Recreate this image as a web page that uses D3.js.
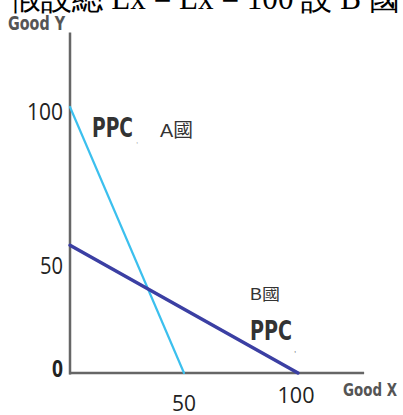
<!DOCTYPE html>
<html><head><meta charset="utf-8">
<script src="https://cdn.jsdelivr.net/npm/d3@7/dist/d3.min.js"></script>
<style>html,body{margin:0;padding:0;background:#fff;overflow:hidden}</style>
</head><body>
<svg id="c" width="403" height="415"></svg>
<script>
// Data
const countries = ["A國", "B國"];
const xIntercepts = [50, 100];   // Good X max
const yIntercepts = [100, 48];   // Good Y max
const xTicks = ["50", "100"];
const xTickValues = [50, 100];
const yTicks = ["0", "50", "100"];
const yTickValues = [0, 50, 100];

const svg = d3.select("#c");
const x = d3.scaleLinear().domain([0, 100]).range([70, 298]);
const y = d3.scaleLinear().domain([0, 100]).range([373, 107]);

// cut-off heading text
svg.append("text").attr("x", 10).attr("y", 9)
  .attr("font-family", "Liberation Serif, serif").attr("font-size", 34).attr("fill", "#000")
  .attr("textLength", 390).attr("lengthAdjust", "spacingAndGlyphs")
  .text("假設總 Lx = Lx = 100 設 B 國");

// axes
const axColor = "#666";
svg.append("line").attr("x1", x(0)).attr("x2", x(0)).attr("y1", y(0) + 1.5).attr("y2", y(128))
  .attr("stroke", axColor).attr("stroke-width", 2.5);
svg.append("line").attr("x1", x(0) - 1).attr("x2", x(129)).attr("y1", y(0)).attr("y2", y(0))
  .attr("stroke", axColor).attr("stroke-width", 2.5);

const cond = "DejaVu Sans Condensed, DejaVu Sans";
svg.append("text").attr("x", 8).attr("y", 30)
  .attr("font-family", cond).attr("font-weight", "bold")
  .attr("font-size", 19).attr("fill", "#555")
  .attr("textLength", 57).attr("lengthAdjust", "spacingAndGlyphs").text("Good Y");
svg.append("text").attr("x", 343).attr("y", 396)
  .attr("font-family", cond).attr("font-weight", "bold")
  .attr("font-size", 18).attr("fill", "#555")
  .attr("textLength", 54).attr("lengthAdjust", "spacingAndGlyphs").text("Good X");

// y tick labels
const yOff = {"0": -2, "50": 28, "100": 7};
const yLen = {"0": 11, "50": 23, "100": 36};
svg.selectAll(".yt").data(yTickValues).join("text")
  .attr("x", (d, i) => 63 - yLen[yTicks[i]]).attr("y", (d, i) => y(d) + yOff[yTicks[i]])
  .attr("dominant-baseline", "middle")
  .attr("font-family", "Open Sans, sans-serif").attr("font-size", 23).attr("fill", "#222")
  .attr("font-weight", (d, i) => yTicks[i] === "0" ? "bold" : "normal")
  .attr("textLength", (d, i) => yLen[yTicks[i]]).attr("lengthAdjust", "spacingAndGlyphs")
  .text((d, i) => yTicks[i]);

// x tick labels
const xOffX = {"50": 0, "100": -2};
const xOffY = {"50": 32, "100": 24};
const xLen = {"50": 24, "100": 37};
svg.selectAll(".xt").data(xTickValues).join("text")
  .attr("x", (d, i) => x(d) + xOffX[xTicks[i]] - xLen[xTicks[i]] / 2)
  .attr("y", (d, i) => y(0) + xOffY[xTicks[i]])
  .attr("dominant-baseline", "middle")
  .attr("font-family", "Open Sans, sans-serif").attr("font-size", 22).attr("fill", "#222")
  .attr("textLength", (d, i) => xLen[xTicks[i]]).attr("lengthAdjust", "spacingAndGlyphs")
  .text((d, i) => xTicks[i]);

// PPC lines
const colors = ["#3cc0ee", "#3b3fa3"];
const widths = [2.2, 3.5];
countries.forEach((c, i) => {
  svg.append("line")
    .attr("x1", x(0)).attr("y1", y(yIntercepts[i]))
    .attr("x2", x(xIntercepts[i])).attr("y2", y(0))
    .attr("stroke", colors[i]).attr("stroke-width", widths[i]).attr("stroke-linecap", "round");
});

// labels
const lab = (t, px, py, fs, bold, fill, len) => {
  const s = svg.append("text").attr("x", px).attr("y", py)
    .attr("font-family", bold ? cond : "Liberation Sans, Noto Sans CJK TC, sans-serif")
    .attr("font-weight", bold ? "bold" : "normal").attr("font-size", fs).attr("fill", fill).text(t);
  if (len) s.attr("textLength", len).attr("lengthAdjust", "spacingAndGlyphs");
  return s;
};

lab("PPC", 92, 137, 26, true, "#333", 41);
lab(",", 136, 143, 8, false, "#999");
lab(countries[0], 160, 137, 19, false, "#333", 33);
lab(countries[1], 250, 300, 16, false, "#333", 30);
lab("PPC", 250, 340, 26, true, "#333", 42);
lab(",", 294, 352, 8, false, "#555");
</script>
</body></html>
